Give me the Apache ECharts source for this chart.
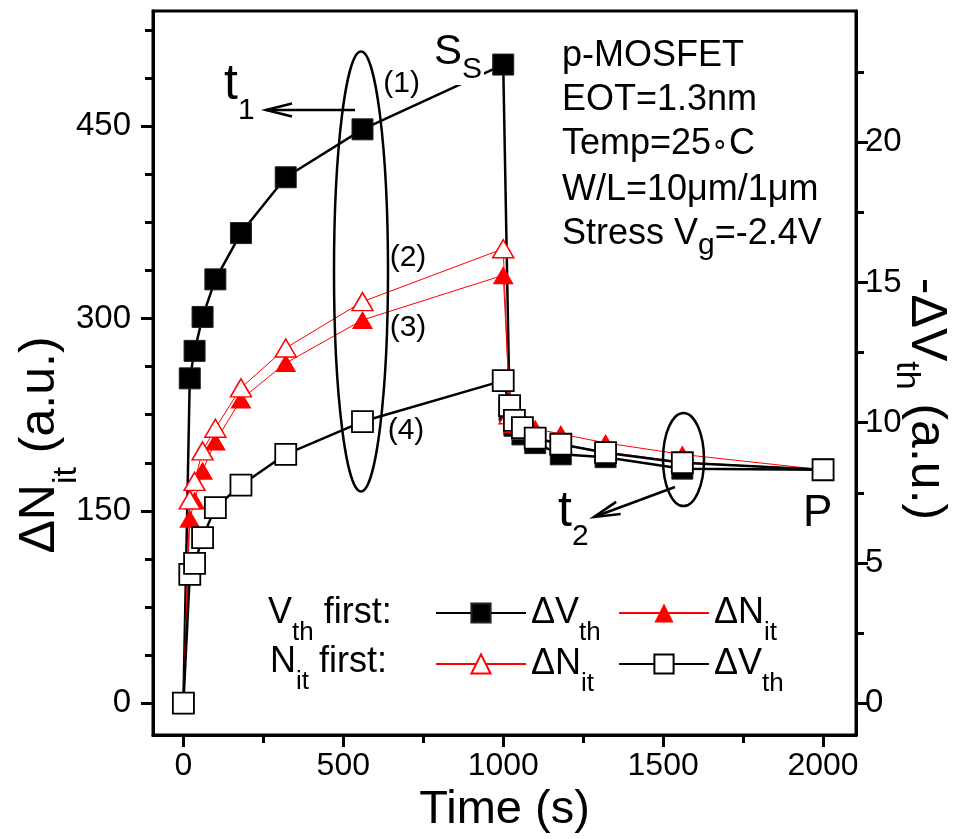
<!DOCTYPE html>
<html>
<head>
<meta charset="utf-8">
<script src="https://cdn.jsdelivr.net/npm/echarts@6/dist/echarts.min.js"></script>
<style>
  html, body { margin: 0; padding: 0; background: #fff; }
  #chart { width: 969px; height: 839px; }
</style>
</head>
<body>
<div id="chart"></div>
<script>
// Stress (0-1000 s) followed by recovery (1000-2000 s)
const timeS = [0, 20, 35, 60, 100, 180, 320, 560, 1000, 1020, 1035, 1060, 1100, 1180, 1320, 1560, 2000];

// V_th measured first
const vthFirstDVth = [0, 11.58, 12.56, 13.77, 15.11, 16.76, 18.75, 20.46, 22.77, 10.43, 9.89, 9.58, 9.27, 8.87, 8.77, 8.36, 8.32];
const vthFirstDNit = [0, 143.8, 158, 181.3, 204, 236.9, 265.3, 298.9, 333.8, 236, 228, 221, 214, 210, 203, 194, 182];

// N_it measured first
const nitFirstDNit = [0, 158.5, 173, 196.8, 214.4, 245.9, 277, 313.2, 354.5, 225, 218, 213, 207, 202, 196, 188, 182];
const nitFirstDVth = [0, 4.59, 4.98, 5.90, 6.97, 7.77, 8.87, 10.04, 11.5, 10.61, 10.08, 9.82, 9.45, 9.23, 8.93, 8.57, 8.32];

// Axis ticks
const timeTicks = [0, 500, 1000, 1500, 2000];
const timeMinorTicks = [250, 750, 1250, 1750];
const nitTicks = [0, 150, 300, 450];
const nitMinorTicks = [37.5, 75, 112.5, 187.5, 225, 262.5, 337.5, 375, 412.5, 487.5, 525];
const vthTicks = [0, 5, 10, 15, 20];
const vthMinorTicks = [2.5, 7.5, 12.5, 17.5, 22.5];

const FONT = '"Liberation Sans", Arial, Helvetica, sans-serif';
const BLACK = '#000';
const RED = '#ff0000';

const X_RANGE = [-95, 2103];
const NIT_RANGE = [-25, 540];
const VTH_RANGE = [-1.142, 24.68];

function pairs(xs, ys) { return xs.map((x, i) => [x, ys[i]]); }
const plain = v => String(v);

function axisBase(fontSize, margin, ticks) {
  return {
    axisLine: { show: true, onZero: false, lineStyle: { color: BLACK, width: 3 } },
    splitLine: { show: false },
    axisTick: { show: true, customValues: ticks, length: 12, lineStyle: { color: BLACK, width: 3 } },
    axisLabel: { color: BLACK, fontSize: fontSize, fontFamily: FONT, margin: margin, customValues: ticks, formatter: plain }
  };
}
function minorAxis(extra, ticks) {
  return Object.assign({
    type: 'value',
    axisLine: { show: false, onZero: false },
    axisLabel: { show: false },
    splitLine: { show: false },
    axisTick: { show: true, customValues: ticks, length: 8, lineStyle: { color: BLACK, width: 3 } }
  }, extra);
}

const legendNames = {
  'Vth first ΔVth': '{m|ΔV}{s|th}',
  'Vth first ΔNit': '{m|ΔN}{s|it}',
  'Nit first ΔNit': '{m|ΔN}{s|it}',
  'Nit first ΔVth': '{m|ΔV}{s|th}'
};
function legendAt(name, left, top) {
  return {
    data: [name], left: left, top: top, padding: 0,
    itemWidth: 90, itemHeight: 24, selectedMode: false,
    formatter: n => legendNames[n],
    textStyle: {
      color: BLACK, fontFamily: FONT, fontSize: 36,
      rich: {
        m: { fontSize: 36, fontFamily: FONT, color: BLACK },
        s: { fontSize: 26, fontFamily: FONT, color: BLACK, padding: [40, 0, 0, 0] }
      }
    }
  };
}

function label(x, y, text, size, align) {
  return { type: 'text', x: x, y: y, z: 100,
    style: { text: text, fontSize: size, fontFamily: FONT, fill: BLACK, align: align || 'left', verticalAlign: 'middle' } };
}
function subLabel(x, y, main, sub, mSize, sSize, drop, extra) {
  extra = extra || {};
  return { type: 'text', x: x, y: y, z: 100, rotation: extra.rotation || 0,
    style: Object.assign({
      text: main.map((m, i) => '{m|' + m + '}' + (sub[i] ? '{s|' + sub[i] + '}' : '')).join(''),
      fontFamily: FONT, fill: BLACK, align: extra.align || 'left', verticalAlign: 'middle',
      rich: {
        m: { fontSize: mSize, fontFamily: FONT, color: BLACK },
        s: { fontSize: sSize, fontFamily: FONT, color: BLACK, padding: [drop * 2, 0, 0, 0] }
      }
    }, extra.style || {}) };
}
function arrow(x1, y1, x2, y2) {
  const dx = x1 - x2, dy = y1 - y2, len = Math.hypot(dx, dy);
  const ux = dx / len, uy = dy / len, hl = 26, hw = 6.5;
  const bx = x2 + ux * hl, by = y2 + uy * hl;
  return [
    { type: 'line', z: 90, shape: { x1: x1, y1: y1, x2: x2, y2: y2 }, style: { stroke: BLACK, lineWidth: 2.5 } },
    { type: 'polyline', z: 90, shape: { points: [[bx - uy * hw, by + ux * hw], [x2, y2], [bx + uy * hw, by - ux * hw]] },
      style: { stroke: BLACK, lineWidth: 2.5, fill: 'none' } }
  ];
}

const chart = echarts.init(document.getElementById('chart'));

const option = {
  animation: false,
  backgroundColor: '#fff',
  grid: { left: 153, right: 113, top: 11, bottom: 100, show: true, borderColor: BLACK, borderWidth: 3, backgroundColor: 'transparent' },
  xAxis: [
    Object.assign({
      type: 'value', position: 'bottom', min: X_RANGE[0], max: X_RANGE[1],
      name: 'Time (s)', nameLocation: 'middle', nameGap: 48,
      nameTextStyle: { color: BLACK, fontSize: 47, fontFamily: FONT }
    }, axisBase(32, 15, timeTicks)),
    minorAxis({ position: 'bottom', min: X_RANGE[0], max: X_RANGE[1] }, timeMinorTicks)
  ],
  yAxis: [
    Object.assign({ type: 'value', position: 'left', min: NIT_RANGE[0], max: NIT_RANGE[1] }, axisBase(33, 22, nitTicks)),
    Object.assign({ type: 'value', position: 'right', min: VTH_RANGE[0], max: VTH_RANGE[1] }, axisBase(33, 9, vthTicks)),
    minorAxis({ position: 'left', min: NIT_RANGE[0], max: NIT_RANGE[1] }, nitMinorTicks),
    minorAxis({ position: 'right', min: VTH_RANGE[0], max: VTH_RANGE[1] }, vthMinorTicks)
  ],
  legend: [
    legendAt('Vth first ΔVth', 435, 595),
    legendAt('Vth first ΔNit', 618, 595),
    legendAt('Nit first ΔNit', 435, 646),
    legendAt('Nit first ΔVth', 618, 646)
  ],
  series: [
    {
      name: 'Vth first ΔVth', type: 'line', xAxisIndex: 0, yAxisIndex: 1,
      data: pairs(timeS, vthFirstDVth),
      symbol: 'rect', symbolSize: 21,
      itemStyle: { color: BLACK, borderColor: '#222', borderWidth: 1 },
      lineStyle: { color: BLACK, width: 2.5 }
    },
    {
      name: 'Vth first ΔNit', type: 'line', xAxisIndex: 0, yAxisIndex: 0,
      data: pairs(timeS, vthFirstDNit),
      symbol: 'triangle', symbolSize: [21, 18],
      itemStyle: { color: RED },
      lineStyle: { color: RED, width: 1 }
    },
    {
      name: 'Nit first ΔNit', type: 'line', xAxisIndex: 0, yAxisIndex: 0,
      data: pairs(timeS, nitFirstDNit),
      symbol: 'triangle', symbolSize: [21, 18],
      itemStyle: { color: '#fff', borderColor: RED, borderWidth: 1.5 },
      lineStyle: { color: RED, width: 1 }
    },
    {
      name: 'Nit first ΔVth', type: 'line', xAxisIndex: 0, yAxisIndex: 1,
      data: pairs(timeS, nitFirstDVth),
      symbol: 'rect', symbolSize: 21,
      itemStyle: { color: '#fff', borderColor: BLACK, borderWidth: 1.8 },
      lineStyle: { color: BLACK, width: 2.5 }
    }
  ],
  graphic: [].concat(
    [
      // axis titles
      subLabel(40, 445, ['ΔN', ' (a.u.)'], ['it', ''], 50, 34, 27, { rotation: Math.PI / 2, align: 'center' }),
      subLabel(926, 399, ['-ΔV', ' (a.u.)'], ['th', ''], 50, 34, 20, { rotation: -Math.PI / 2, align: 'center' }),

      // device / stress conditions
      label(562, 56, 'p-MOSFET', 36),
      label(562, 100, 'EOT=1.3nm', 36),
      { type: 'text', x: 562, y: 144, z: 100,
        style: { text: '{m|Temp=25}{d|∘}{m|C}', fontFamily: FONT, fill: BLACK, align: 'left', verticalAlign: 'middle',
          rich: { m: { fontSize: 36, fontFamily: FONT, color: BLACK }, d: { fontSize: 28, fontFamily: FONT, color: BLACK } } } },
      label(562, 190, 'W/L=10μm/1μm', 36),
      subLabel(562, 234, ['Stress V', '=-2.4V'], ['g', ''], 36, 30, 12),

      // legend row headers
      subLabel(268, 613, ['V', ' first:'], ['th', ''], 36, 26, 20),
      subLabel(270, 662, ['N', ' first:'], ['it', ''], 36, 26, 20),

      // curve markers
      label(401.7, 84, '(1)', 30, 'center'),
      label(408, 257.5, '(2)', 30, 'center'),
      label(408, 327.5, '(3)', 30, 'center'),
      label(406, 431, '(4)', 30, 'center'),
      subLabel(434, 52, ['S'], ['S'], 42, 30, 18, { style: { backgroundColor: '#fff', padding: [0, 2, 0, 0] } }),
      subLabel(224, 85, ['t'], ['1'], 50, 30, 26),
      subLabel(558, 512, ['t'], ['2'], 50, 30, 25),
      label(803, 514, 'P', 44),

      // grouping ellipses
      { type: 'ellipse', z: 80, shape: { cx: 361, cy: 271.5, rx: 27, ry: 220 }, style: { stroke: BLACK, lineWidth: 2.5, fill: 'none' } },
      { type: 'ellipse', z: 80, shape: { cx: 683.5, cy: 459.5, rx: 20.5, ry: 46.5 }, style: { stroke: BLACK, lineWidth: 2.5, fill: 'none' } }
    ],
    arrow(355, 110, 266, 110),
    arrow(675, 487, 594, 517)
  )
};

chart.setOption(option);
</script>
</body>
</html>
